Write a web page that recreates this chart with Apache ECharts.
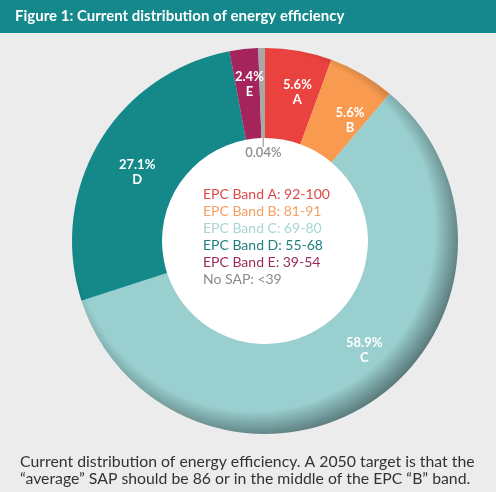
<!DOCTYPE html>
<html>
<head>
<meta charset="utf-8">
<script src="https://cdn.jsdelivr.net/npm/echarts@6/dist/echarts.min.js"></script>
<style>
  html, body { margin: 0; padding: 0; background: #ececec; }
  #chart { width: 496px; height: 492px; }
</style>
</head>
<body>
<div id="chart"></div>
<script>
// figure data
const bandNames = ['EPC Band A: 92-100', 'EPC Band B: 81-91', 'EPC Band C: 69-80', 'EPC Band D: 55-68', 'EPC Band E: 39-54', 'No SAP: <39']
const bandLetters = ['A', 'B', 'C', 'D', 'E', '']
const shares = [5.6, 5.6, 58.9, 27.1, 2.4, 0.04]
const sliceColors = ['#e9423f', '#f89b50', '#9acfd0', '#15898a', '#a4245b', '#a8a8a8']
const legendColors = ['#e04848', '#f3a062', '#a8d5d5', '#1f7f7e', '#9c2b5b', '#8a8a8a']
// small nudges so the slice labels sit where the printed figure has them
const labelNudge = [[6, 0], [9, 10], [15, -16], [2, 8], [1, -7], [1, 63]]

const titleText = 'Figure 1: Current distribution of energy efficiency'
const captionText = 'Current distribution of energy efficiency. A 2050 target is that the\n\u201caverage\u201d SAP should be 86 or in the middle of the EPC \u201cB\u201d band.'

const CX = 265, CY = 241, R_IN = 103, R_OUT = 193
const MIN_ANGLE = 2
const FONT = 'Lato, "Open Sans", sans-serif'

const darken = (c, k) => {
  const rgb = echarts.color.parse(c)
  return 'rgb(' + [0, 1, 2].map(i => Math.round(rgb[i] * (1 - k))).join(',') + ')'
}

// darker rim toward bottom-right, gradient centre pushed up-left
const shade = (c) => {
  const d = 16
  const g = R_OUT + d
  return {
    type: 'radial', global: true,
    x: CX - d * 0.7, y: CY - d * 0.7, r: g,
    colorStops: [
      { offset: 0, color: c },
      { offset: (R_OUT - 12) / g, color: c },
      { offset: 1, color: darken(c, 0.42) }
    ]
  }
}

const chart = echarts.init(document.getElementById('chart'))

const pieData = shares.map((v, i) => {
  const item = {
    name: bandNames[i], value: v,
    itemStyle: { color: shade(sliceColors[i]) },
    label: { offset: labelNudge[i] }
  }
  if (!bandLetters[i]) {
    // tiny slice: label sits in the hole
    item.label = {
      offset: labelNudge[i],
      color: '#8c8c8c',
      fontWeight: 600,
      formatter: p => p.value + '%'
    }
  }
  return item
})

// short leader tick from the hole edge, at the middle of the last (tiny) slice
const tickAng = (MIN_ANGLE / 2) * Math.PI / 180
const tickX = CX - R_IN * Math.sin(tickAng)
const tickY = CY - R_IN * Math.cos(tickAng)

chart.setOption({
  backgroundColor: '#ececec',
  animation: false,
  title: [
    {
      text: titleText,
      left: 0, top: 0,
      padding: [8, 15, 8, 15],
      backgroundColor: '#14888a',
      textStyle: { width: 466, color: '#fff', fontSize: 15, fontWeight: 'bold', fontFamily: FONT, lineHeight: 17 }
    },
    {
      text: captionText,
      left: 20, top: 453,
      padding: 0,
      textStyle: { color: '#333', fontSize: 15.8, fontWeight: 'normal', fontFamily: FONT, lineHeight: 17 }
    }
  ],
  graphic: [{
    type: 'line',
    z: 10,
    silent: true,
    shape: { x1: tickX, y1: tickY, x2: tickX, y2: tickY + 9 },
    style: { stroke: '#8c8c8c', lineWidth: 1 }
  }],
  legend: {
    orient: 'vertical',
    left: 192, top: 182,
    icon: 'none',
    itemWidth: 1, itemHeight: 14, itemGap: 3,
    selectedMode: false,
    textStyle: { fontSize: 14, fontFamily: FONT, lineHeight: 14 },
    data: bandNames.map((n, i) => ({ name: n, textStyle: { color: legendColors[i] } }))
  },
  series: [
    {
      type: 'pie',
      center: [CX, CY],
      radius: [0, R_IN],
      silent: true,
      z: 1,
      label: { show: false },
      labelLine: { show: false },
      data: [{ name: 'hole', value: 1, itemStyle: { color: '#fff' } }]
    },
    {
      type: 'pie',
      center: [CX, CY],
      radius: [R_IN, R_OUT],
      startAngle: 90,
      clockwise: true,
      minAngle: MIN_ANGLE,
      z: 2,
      itemStyle: { borderWidth: 0 },
      emphasis: { scale: false },
      label: {
        position: 'inside',
        color: '#fff',
        fontSize: 13,
        fontWeight: 'bold',
        fontFamily: FONT,
        lineHeight: 15,
        formatter: p => p.value + '%\n' + bandLetters[p.dataIndex]
      },
      labelLine: { show: false },
      data: pieData
    }
  ]
})
</script>
</body>
</html>
